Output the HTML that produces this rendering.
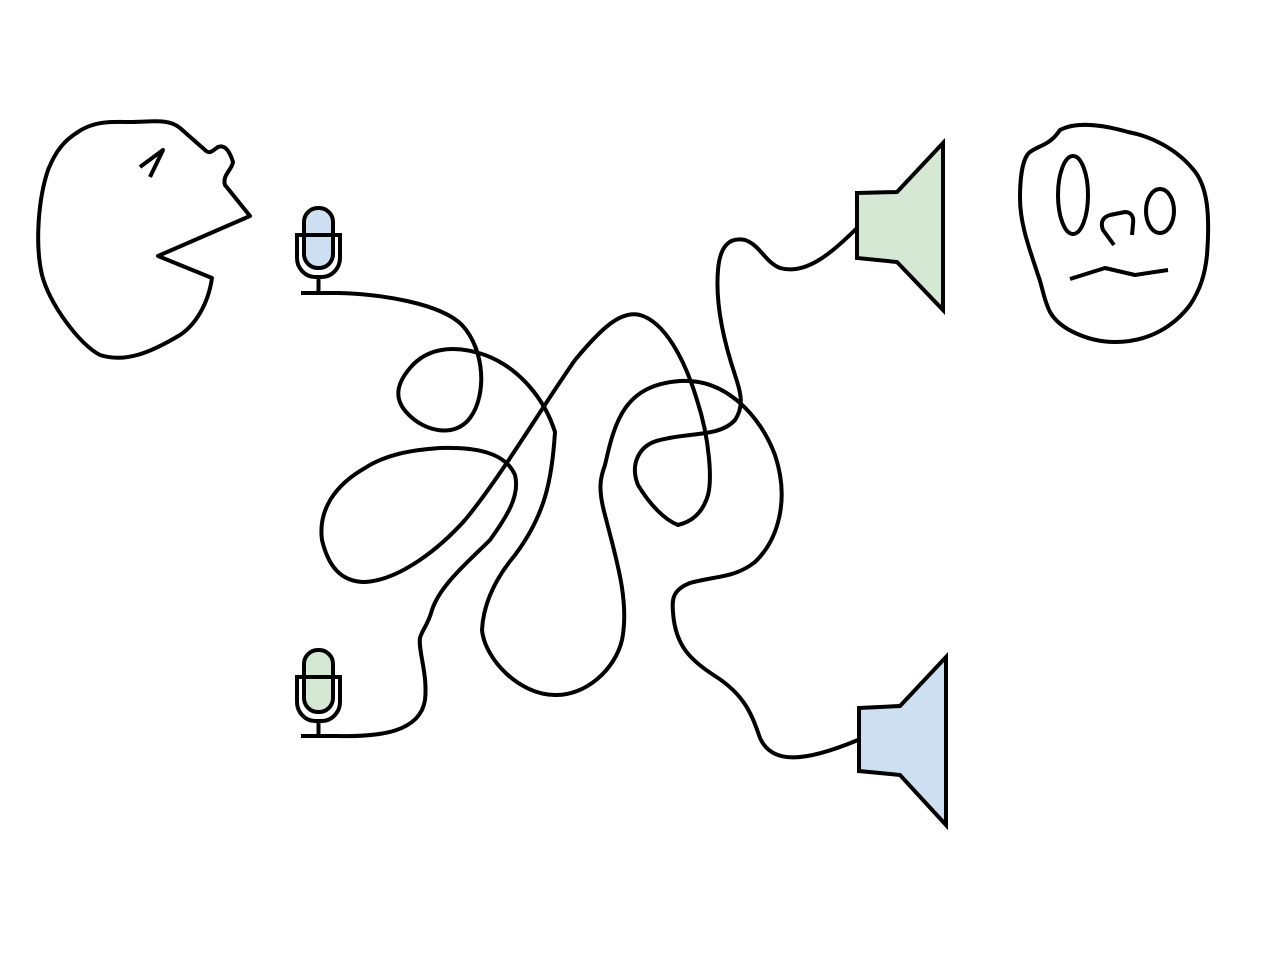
<!DOCTYPE html>
<html><head><meta charset="utf-8"><style>html,body{margin:0;padding:0;background:#fff}svg{display:block}</style></head>
<body>
<svg width="1280" height="960" viewBox="0 0 1280 960" xmlns="http://www.w3.org/2000/svg">
<g fill="none" stroke="#000" stroke-width="4" stroke-linejoin="round" stroke-linecap="butt">
<path d="M212,278 C208,305 195,325 180,335 C150,353 125,363 100,355 C80,345 50,305 42,275 C35,245 38,200 48,170 C56,150 65,140 78,132 C95,120 115,122 130,122 C150,122 168,118 180,128 L205,150 C210,155 213,150 218,147 C225,144 230,152 233,162 C232,170 222,175 225,185 L250,216 L158,256 Z"/>
<path d="M140,167 L163,150 L150,177"/>
<path d="M1060,130 C1075,122 1100,124 1128,132 C1150,136 1175,148 1192,168 C1208,185 1210,215 1207,255 C1205,275 1200,290 1190,305 C1175,325 1150,342 1115,342 C1090,342 1060,330 1050,312 C1043,298 1043,288 1038,275 C1030,250 1020,225 1020,198 C1020,180 1022,158 1030,152 C1040,145 1050,145 1060,130 Z"/>
<ellipse cx="1073" cy="195" rx="15" ry="39"/>
<ellipse cx="1160" cy="211" rx="14" ry="22"/>
<path d="M1114,245 L1103,230 C1100,222 1103,217 1110,215 L1125,212 C1132,212 1134,218 1133,224 L1132,235"/>
<path d="M1070,279 L1105,268 L1135,275 L1168,270"/>
<path d="M338,293 C380,294 440,303 462,325 C485,350 487,395 470,418 C455,438 425,432 408,414 C392,398 398,382 410,368 C425,350 450,343 485,355 C520,368 545,400 555,432 C552,480 545,515 515,555 C490,585 483,610 482,630 C485,660 520,695 555,695 C585,696 615,670 622,640 C630,600 615,555 605,515 C598,490 600,478 605,465 C615,420 625,385 680,381 C725,378 760,415 775,455 C790,500 778,540 755,562 C735,578 715,576 690,583 C672,590 672,600 673,612 C675,645 690,660 715,676 C745,695 752,715 760,738 C772,765 805,762 858,740"/>
<path d="M338,736 C380,737 420,732 425,700 C428,675 418,650 420,638 C422,630 428,625 432,610 C440,585 470,560 490,540 C508,515 520,495 515,475 C505,452 475,447 440,448 C410,450 385,455 365,468 C335,485 318,510 322,540 C328,565 340,582 365,582 C400,580 440,548 465,520 C500,478 540,410 575,360 C600,330 620,310 640,315 C665,322 685,360 697,400 C710,440 712,480 708,495 C702,515 690,522 678,525 C665,520 650,505 638,485 C630,465 638,445 660,440 C690,432 720,437 735,420 C745,405 740,390 735,375 C725,345 715,305 718,270 C720,245 730,237 745,240 C760,245 765,262 780,268 C805,275 830,255 857,228"/>
</g>
<path d="M857,193 L897,192 L943,143 L943,310 L897,262 L857,258 Z" fill="#d5e8d4" stroke="#000" stroke-width="4" stroke-linejoin="miter"/>
<path d="M859,708 L900,706 L946,657 L946,825 L900,775 L859,771 Z" fill="#cddff0" stroke="#000" stroke-width="4" stroke-linejoin="miter"/>
<g stroke="#000" stroke-width="4" fill="none">
<rect x="304" y="208" width="29" height="60" rx="14" fill="#cddff0"/>
<path d="M297,235 L297,258 C297,268 305,277 315,277 L322,277 C332,277 340,268 340,258 L340,235 Z"/>
<line x1="318.5" y1="277" x2="318.5" y2="293"/>
<line x1="301" y1="293" x2="340" y2="293"/>
</g>
<g stroke="#000" stroke-width="4" fill="none">
<rect x="304" y="650" width="29" height="62" rx="14" fill="#d5e8d4"/>
<path d="M297,677 L297,702 C297,712 305,721 315,721 L322,721 C332,721 340,712 340,702 L340,677 Z"/>
<line x1="318.5" y1="721" x2="318.5" y2="736"/>
<line x1="301" y1="736" x2="340" y2="736"/>
</g>
</svg>
</body></html>
